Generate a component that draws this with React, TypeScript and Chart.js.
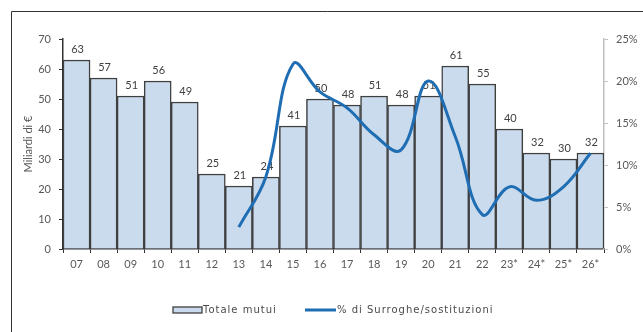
import React, { useEffect, useRef } from "react";
import { Chart, registerables } from "chart.js";

Chart.register(...registerables);

const years = ["07", "08", "09", "10", "11", "12", "13", "14", "15", "16", "17", "18", "19", "20", "21", "22", "23*", "24*", "25*", "26*"];
const totaleMutui = [63, 57, 51, 56, 49, 25, 21, 24, 41, 50, 48, 51, 48, 51, 61, 55, 40, 32, 30, 32];
const surroghePct = [null, null, null, null, null, null, 2.6, 8.6, 22.0, 18.7, 16.8, 13.6, 11.8, 20.0, 13.4, 4.1, 7.4, 5.8, 7.4, 11.4];
const leftTicks = [0, 10, 20, 30, 40, 50, 60, 70];
const rightTicks = [0, 5, 10, 15, 20, 25];

const FONT = "Lato, 'DejaVu Sans', sans-serif";
const LEGEND_FONT = "'DejaVu Sans', sans-serif";
const BAR_FILL = "#c9dbec";
const BAR_EDGE = "#3f3f3f";
const LINE_BLUE = "#1f6db3";

const valueLabels = {
  id: "valueLabels",
  afterDatasetDraw(chart: any, args: any) {
    if (args.index !== 1) return;
    const ctx = chart.ctx;
    const meta = chart.getDatasetMeta(1);
    ctx.save();
    ctx.font = `11px ${FONT}`;
    ctx.fillStyle = "#404040";
    ctx.textAlign = "center";
    ctx.textBaseline = "bottom";
    meta.data.forEach((el: any, i: number) => {
      ctx.fillText(String(totaleMutui[i]), el.x + 1, el.y - 5);
    });
    ctx.restore();
  },
};

const frameAndLegend = {
  id: "frameAndLegend",
  afterDraw(chart: any) {
    const ctx = chart.ctx;
    ctx.save();
    // outer frame (top and left edges)
    ctx.strokeStyle = "#333333";
    ctx.lineWidth = 1;
    ctx.beginPath();
    ctx.moveTo(11.5, chart.height);
    ctx.lineTo(11.5, 11.5);
    ctx.lineTo(chart.width, 11.5);
    ctx.stroke();

    // legend
    const y = 310;
    ctx.fillStyle = BAR_FILL;
    ctx.fillRect(173, y - 3, 29, 6);
    ctx.strokeStyle = BAR_EDGE;
    ctx.lineWidth = 1.3;
    ctx.strokeRect(173, y - 3, 29, 6);

    ctx.strokeStyle = LINE_BLUE;
    ctx.lineWidth = 3;
    ctx.beginPath();
    ctx.moveTo(305, y);
    ctx.lineTo(336, y);
    ctx.stroke();

    ctx.font = `10px ${LEGEND_FONT}`;
    (ctx as any).letterSpacing = "1px";
    ctx.fillStyle = "#4a4a4a";
    ctx.textAlign = "left";
    ctx.textBaseline = "middle";
    ctx.fillText("Totale mutui", 203, y);
    ctx.fillText("% di Surroghe/sostituzioni", 337, y);
    ctx.restore();
  },
};

export default function App() {
  const ref = useRef<HTMLCanvasElement | null>(null);

  useEffect(() => {
    if (!ref.current) return;
    const chart = new Chart(ref.current, {
      type: "bar",
      data: {
        labels: years,
        datasets: [
          {
            type: "line",
            label: "% di Surroghe/sostituzioni",
            data: surroghePct,
            yAxisID: "y1",
            borderColor: LINE_BLUE,
            backgroundColor: LINE_BLUE,
            borderWidth: 3,
            tension: 0.4,
            pointRadius: 0,
            fill: false,
            order: 0,
          } as any,
          {
            type: "bar",
            label: "Totale mutui",
            data: totaleMutui,
            yAxisID: "y",
            backgroundColor: BAR_FILL,
            borderColor: BAR_EDGE,
            borderWidth: 1.5,
            barPercentage: 1,
            categoryPercentage: 1,
            order: 1,
          },
        ],
      },
      options: {
        responsive: false,
        animation: false,
        devicePixelRatio: 1,
        layout: { padding: { left: 20, top: 39, right: 0, bottom: 0 } },
        plugins: {
          legend: { display: false },
          tooltip: { enabled: false },
        },
        scales: {
          x: {
            grid: { display: true, drawOnChartArea: false, tickLength: 4, color: "#333333", offset: true },
            border: { color: "#333333", width: 1.5 },
            ticks: { color: "#595959", font: { family: FONT, size: 11 }, padding: 5, maxRotation: 0, autoSkip: false },
            afterFit: (s: any) => { s.height = 83; },
          },
          y: {
            position: "left",
            min: 0,
            max: 70,
            afterBuildTicks: (s: any) => { s.ticks = leftTicks.map((v) => ({ value: v })); },
            grid: { drawOnChartArea: false, tickLength: 4, color: "#333333" },
            border: { color: "#333333", width: 1.5 },
            ticks: { color: "#595959", font: { family: FONT, size: 11 }, padding: 8 },
            title: { display: true, text: "Miliardi di €", color: "#595959", font: { family: FONT, size: 11 }, padding: 2 },
            afterFit: (s: any) => { s.width = 43; },
          },
          y1: {
            position: "right",
            min: 0,
            max: 25,
            afterBuildTicks: (s: any) => { s.ticks = rightTicks.map((v) => ({ value: v })); },
            grid: { drawOnChartArea: false, tickLength: 4, color: "#bfbfbf" },
            border: { color: "#bfbfbf", width: 1.5 },
            ticks: { color: "#595959", font: { family: FONT, size: 11 }, padding: 8, callback: (v: any) => `${v}%` },
            afterFit: (s: any) => { s.width = 39; },
          },
        },
      },
      plugins: [valueLabels, frameAndLegend],
    });
    return () => chart.destroy();
  }, []);

  return (
    <div style={{ position: "fixed", left: 0, top: 0, width: 643, height: 332, background: "#ffffff" }}>
      <canvas ref={ref} width={643} height={332} style={{ display: "block" }} />
    </div>
  );
}
